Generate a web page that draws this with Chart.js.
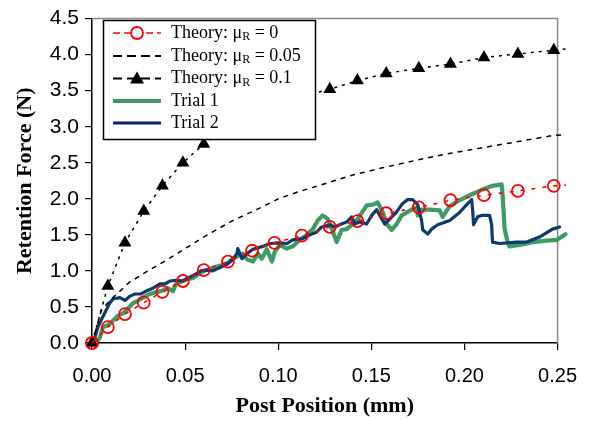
<!DOCTYPE html>
<html>
<head>
<meta charset="utf-8">
<script src="https://cdn.jsdelivr.net/npm/chart.js@4"></script>
<style>
  html, body { margin: 0; padding: 0; background: #fff; }
  #wrap { width: 591px; height: 421px; }
</style>
</head>
<body>
<div id="wrap"><canvas id="myChart" width="591" height="421"></canvas></div>
<script>
// theory curves (markers at these positions, last point has no marker)
var theoryX = [0, 0.0085, 0.0177, 0.0278, 0.0378, 0.0488, 0.0600, 0.0730, 0.0860, 0.0980, 0.1127, 0.1277, 0.1425, 0.1580, 0.1755, 0.1925, 0.2105, 0.2287, 0.2480, 0.2545];
var theoryMu0 = [0, 0.22, 0.40, 0.56, 0.71, 0.86, 1.01, 1.13, 1.28, 1.39, 1.49, 1.61, 1.69, 1.80, 1.88, 1.98, 2.05, 2.11, 2.18, 2.19];
var theoryMu01 = [0, 0.79, 1.39, 1.83, 2.18, 2.50, 2.76, 2.98, 3.16, 3.30, 3.42, 3.52, 3.64, 3.74, 3.81, 3.87, 3.96, 4.01, 4.06, 4.08];

var theory005X = [0, 0.005, 0.01, 0.02, 0.03, 0.04, 0.05, 0.06, 0.075, 0.09, 0.10, 0.11, 0.125, 0.14, 0.156, 0.175, 0.19, 0.21, 0.23, 0.248, 0.2545];
var theoryMu005 = [0, 0.45, 0.60, 0.84, 1.00, 1.15, 1.31, 1.47, 1.69, 1.87, 2.00, 2.09, 2.21, 2.33, 2.43, 2.54, 2.62, 2.71, 2.80, 2.88, 2.89];

// measured trials
var trial1X = [0, 0.0032, 0.0043, 0.0059, 0.0086, 0.0113, 0.0139, 0.0166, 0.0193, 0.0220, 0.0247, 0.0274, 0.0311, 0.0338, 0.0370, 0.0408, 0.0435, 0.0451, 0.0488, 0.0515, 0.0542, 0.0579, 0.0612, 0.0671, 0.0724, 0.0756, 0.0810, 0.0832, 0.0864, 0.0891, 0.0912, 0.0939, 0.0966, 0.0982, 0.1009, 0.1046, 0.1078, 0.1116, 0.1153, 0.1186, 0.1212, 0.1239, 0.1266, 0.1288, 0.1314, 0.1341, 0.1368, 0.1400, 0.1427, 0.1475, 0.1508, 0.1534, 0.1561, 0.1583, 0.1609, 0.1636, 0.1663, 0.1717, 0.1744, 0.1749, 0.1770, 0.1813, 0.1867, 0.1883, 0.1921, 0.1974, 0.2028, 0.2098, 0.2151, 0.2200, 0.2205, 0.2216, 0.2232, 0.2242, 0.2296, 0.2366, 0.2441, 0.2495, 0.2543];
var trial1Y = [0, 0.04, 0.08, 0.22, 0.25, 0.31, 0.38, 0.41, 0.48, 0.55, 0.59, 0.63, 0.68, 0.70, 0.72, 0.76, 0.72, 0.82, 0.86, 0.89, 0.90, 0.97, 1.01, 1.06, 1.10, 1.17, 1.24, 1.16, 1.13, 1.24, 1.17, 1.30, 1.13, 1.27, 1.36, 1.31, 1.34, 1.43, 1.50, 1.58, 1.70, 1.77, 1.72, 1.58, 1.40, 1.57, 1.58, 1.65, 1.72, 1.91, 1.92, 1.95, 1.82, 1.65, 1.57, 1.65, 1.77, 1.85, 1.88, 1.77, 1.85, 1.85, 1.84, 1.75, 1.90, 1.98, 2.05, 2.13, 2.18, 2.20, 2.05, 1.58, 1.40, 1.34, 1.36, 1.40, 1.42, 1.43, 1.51];

var trial2X = [0, 0.0016, 0.0032, 0.0048, 0.0075, 0.0097, 0.0113, 0.0150, 0.0177, 0.0204, 0.0231, 0.0263, 0.0290, 0.0327, 0.0365, 0.0392, 0.0418, 0.0451, 0.0488, 0.0515, 0.0553, 0.0585, 0.0612, 0.0649, 0.0724, 0.0756, 0.0778, 0.0783, 0.0805, 0.0832, 0.0864, 0.0917, 0.0955, 0.1009, 0.1046, 0.1078, 0.1132, 0.1170, 0.1207, 0.1234, 0.1277, 0.1304, 0.1330, 0.1368, 0.1395, 0.1411, 0.1438, 0.1475, 0.1502, 0.1529, 0.1545, 0.1572, 0.1599, 0.1636, 0.1663, 0.1695, 0.1722, 0.1749, 0.1770, 0.1776, 0.1803, 0.1824, 0.1856, 0.1921, 0.1974, 0.2012, 0.2039, 0.2044, 0.2049, 0.2071, 0.2092, 0.2135, 0.2146, 0.2151, 0.2189, 0.2280, 0.2334, 0.2403, 0.2473, 0.2511, 0.2543, 0.2543];
var trial2Y = [0, 0.08, 0.22, 0.31, 0.45, 0.56, 0.61, 0.63, 0.59, 0.65, 0.68, 0.68, 0.72, 0.76, 0.82, 0.82, 0.86, 0.87, 0.86, 0.90, 0.95, 1.00, 1.01, 1.00, 1.09, 1.16, 1.24, 1.31, 1.17, 1.24, 1.30, 1.34, 1.38, 1.39, 1.38, 1.43, 1.45, 1.50, 1.54, 1.61, 1.64, 1.61, 1.64, 1.68, 1.75, 1.65, 1.68, 1.65, 1.77, 1.85, 1.77, 1.65, 1.72, 1.82, 1.92, 1.99, 1.99, 1.92, 1.70, 1.57, 1.51, 1.58, 1.64, 1.70, 1.81, 1.92, 1.99, 1.85, 1.64, 1.75, 1.77, 1.77, 1.64, 1.40, 1.38, 1.40, 1.40, 1.47, 1.58, 1.61, 1.61, 1.23];

var xTicks = [0, 0.05, 0.10, 0.15, 0.20, 0.25];
var legendLabels = ['Theory: \u03bc|R| = 0', 'Theory: \u03bc|R| = 0.05', 'Theory: \u03bc|R| = 0.1', 'Trial 1', 'Trial 2'];

function pts(xs, ys) {
  return xs.map(function (x, i) { return { x: x, y: ys[i] }; });
}

var lastHidden = function (ctx) {
  return ctx.dataIndex === theoryX.length - 1 ? 0 : null;
};

var frame = {
  id: 'frame',
  beforeDatasetsDraw: function (chart) {
    var a = chart.chartArea, c = chart.ctx;
    c.save();
    c.strokeStyle = '#8a8a8a';
    c.lineWidth = 1.5;
    c.beginPath();
    c.moveTo(a.left, a.top);
    c.lineTo(a.right, a.top);
    c.lineTo(a.right, a.bottom);
    c.stroke();
    c.restore();
  }
};

// legend box drawn by hand so the subscript R can be shown
var boxLegend = {
  id: 'boxLegend',
  afterDraw: function (chart) {
    var c = chart.ctx;
    var x0 = 103, y0 = 20, w = 212, h = 119;
    c.save();
    c.fillStyle = '#fff';
    c.fillRect(x0, y0, w, h);
    c.strokeStyle = '#000';
    c.lineWidth = 1.5;
    c.strokeRect(x0 + 0.5, y0 + 0.5, w, h);

    var rows = [33, 56, 78.5, 101, 123];
    var styles = [
      { color: '#ff0000', dash: [7, 4], width: 1.5, marker: 'circle' },
      { color: '#000', dash: [9, 5], width: 1.8, marker: null },
      { color: '#000', dash: [9, 5], width: 1.8, marker: 'tri' },
      { color: '#3a9a62', dash: [], width: 4, marker: null },
      { color: '#0a1f7a', dash: [], width: 3, marker: null }
    ];
    for (var i = 0; i < rows.length; i++) {
      var y = rows[i], s = styles[i];
      c.beginPath();
      c.setLineDash(s.dash);
      c.strokeStyle = s.color;
      c.lineWidth = s.width;
      c.moveTo(113, y);
      c.lineTo(161, y);
      c.stroke();
      c.setLineDash([]);
      if (s.marker === 'circle') {
        c.beginPath();
        c.fillStyle = '#fff';
        c.arc(137, y, 6, 0, Math.PI * 2);
        c.fill();
        c.lineWidth = 1.8;
        c.stroke();
      } else if (s.marker === 'tri') {
        c.beginPath();
        c.fillStyle = '#000';
        c.moveTo(137, y - 7);
        c.lineTo(144, y + 5);
        c.lineTo(130, y + 5);
        c.closePath();
        c.fill();
      }
      // text with optional subscript marked as |R|
      var parts = legendLabels[i].split('|');
      var tx = 171;
      c.fillStyle = '#000';
      c.textBaseline = 'middle';
      for (var p = 0; p < parts.length; p++) {
        if (p === 1) {
          c.font = '12px "Liberation Serif"';
          c.fillText(parts[p], tx, y + 4);
        } else {
          c.font = '18px "Liberation Serif"';
          c.fillText(parts[p], tx, y);
        }
        tx += c.measureText(parts[p]).width;
      }
    }
    c.restore();
  }
};

var ctx = document.getElementById('myChart').getContext('2d');
var chart = new Chart(ctx, {
  type: 'scatter',
  data: {
    datasets: [{
      label: 'Theory mu0',
      data: pts(theoryX, theoryMu0),
      showLine: true,
      borderColor: '#ff0000',
      borderWidth: 1.6,
      borderDash: [4, 7],
      pointStyle: 'circle',
      pointRadius: function (c) { var r = lastHidden(c); return r === null ? 6 : r; },
      pointBorderColor: '#ff0000',
      pointBackgroundColor: 'rgba(0,0,0,0)',
      pointBorderWidth: 1.8,
      clip: 12
    }, {
      label: 'Theory mu0.1',
      data: pts(theoryX, theoryMu01),
      showLine: true,
      borderColor: '#000',
      borderWidth: 1.5,
      borderDash: [3, 5],
      pointStyle: 'triangle',
      pointRadius: function (c) { var r = lastHidden(c); return r === null ? 7.5 : r; },
      pointBackgroundColor: '#000',
      pointBorderColor: '#000',
      pointBorderWidth: 0,
      clip: 12
    }, {
      label: 'Theory mu0.05',
      data: pts(theory005X, theoryMu005),
      showLine: true,
      borderColor: '#000',
      borderWidth: 1.5,
      borderDash: [5, 5],
      pointRadius: 0,
      clip: 12
    }, {
      label: 'Trial 2',
      data: pts(trial2X, trial2Y),
      showLine: true,
      borderColor: '#0c3a6e',
      borderWidth: 3.2,
      borderJoinStyle: 'round',
      borderCapStyle: 'round',
      pointRadius: 0,
      clip: 12
    }, {
      label: 'Trial 1',
      data: pts(trial1X, trial1Y),
      showLine: true,
      borderColor: '#3c9c64',
      borderWidth: 4.2,
      borderJoinStyle: 'round',
      borderCapStyle: 'round',
      pointRadius: 0,
      clip: 12
    }]
  },
  options: {
    responsive: false,
    animation: false,
    layout: { padding: { top: 13, right: 33, left: 0, bottom: 0 } },
    elements: { line: { tension: 0 } },
    plugins: {
      legend: { display: false },
      tooltip: { enabled: false }
    },
    scales: {
      x: {
        type: 'linear',
        min: 0,
        max: 0.25,
        afterFit: function (scale) { scale.height = 78; },
        afterBuildTicks: function (scale) {
          scale.ticks = xTicks.map(function (v) { return { value: v }; });
        },
        ticks: {
          callback: function (v) { return Number(v).toFixed(2); },
          color: '#000',
          padding: 14,
          maxRotation: 0,
          autoSkip: false,
          font: { family: '"Liberation Sans", Arial', size: 20 }
        },
        grid: { drawOnChartArea: false, tickLength: 7, color: '#000', lineWidth: 1.2 },
        border: { color: '#000', width: 1.5 },
        title: {
          display: true,
          text: 'Post Position (mm)',
          color: '#000',
          padding: { top: 0, bottom: 1 },
          font: { family: '"Liberation Serif", "Times New Roman"', size: 22, weight: 'bold' }
        }
      },
      y: {
        type: 'linear',
        min: 0,
        max: 4.5,
        afterFit: function (scale) { scale.width = 92; },
        ticks: {
          stepSize: 0.5,
          callback: function (v) { return Number(v).toFixed(1); },
          color: '#000',
          padding: 6,
          font: { family: '"Liberation Sans", Arial', size: 21 }
        },
        grid: { drawOnChartArea: false, tickLength: 7, color: '#000', lineWidth: 1.2 },
        border: { color: '#000', width: 1.5 },
        title: {
          display: true,
          text: 'Retention Force (N)',
          color: '#000',
          padding: { top: 12, bottom: 0 },
          font: { family: '"Liberation Serif", "Times New Roman"', size: 22, weight: 'bold' }
        }
      }
    }
  },
  plugins: [frame, boxLegend]
});
</script>
</body>
</html>
